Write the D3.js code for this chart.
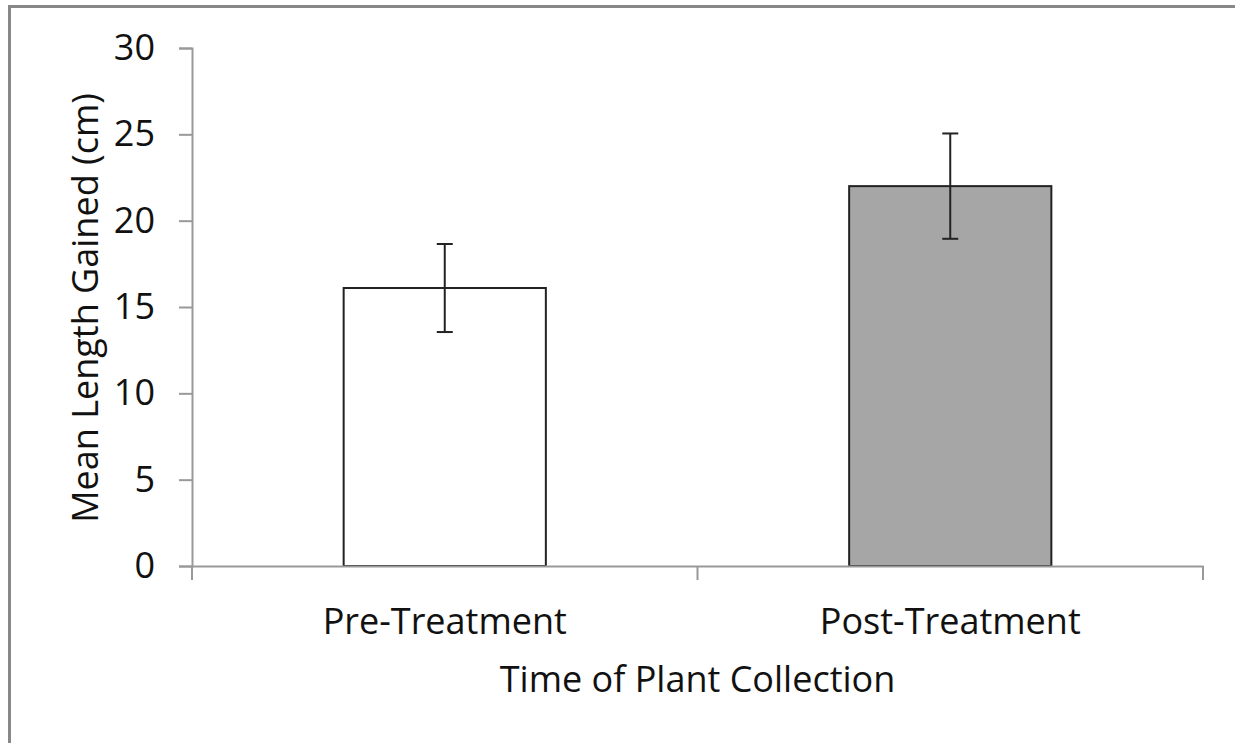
<!DOCTYPE html>
<html>
<head>
<meta charset="utf-8">
<script src="https://cdn.jsdelivr.net/npm/d3@7"></script>
<style>
  body { margin: 0; background: #fff; }
  svg text { font-family: "Open Sans", Lato, sans-serif; fill: #111; }
</style>
</head>
<body>
<div id="chart"></div>
<script>
var categories = ["Pre-Treatment", "Post-Treatment"];
var means = [16.1, 22.0];
var errors = [2.55, 3.05];
var barColors = ["#ffffff", "#a6a6a6"];
var yTicks = [0, 5, 10, 15, 20, 25, 30];

var W = 1235, H = 743;
var margin = {top: 48, right: 32, bottom: 177, left: 192},
    width = W - margin.left - margin.right,
    height = H - margin.top - margin.bottom;

var fontSize = "36px";

var svg = d3.select("#chart").append("svg")
    .attr("width", W)
    .attr("height", H);

// outer frame (only left and top edges show)
svg.append("rect")
    .attr("x", 9.5).attr("y", 6.5)
    .attr("width", W + 20).attr("height", H + 20)
    .attr("fill", "none")
    .attr("stroke", "#888")
    .attr("stroke-width", 3);

var g = svg.append("g")
    .attr("transform", "translate(" + margin.left + "," + margin.top + ")");

var x = d3.scaleBand()
    .domain(categories)
    .range([0, width])
    .paddingInner(0.6)
    .paddingOuter(0.3);

var y = d3.scaleLinear()
    .domain([0, 30])
    .range([height, 0]);

// bars
g.selectAll(".bar")
    .data(categories)
    .enter().append("rect")
    .attr("x", function (d) { return x(d); })
    .attr("y", function (d, i) { return y(means[i]); })
    .attr("width", x.bandwidth())
    .attr("height", function (d, i) { return height - y(means[i]); })
    .attr("fill", function (d, i) { return barColors[i]; })
    .attr("stroke", "#222")
    .attr("stroke-width", 2);

// error bars
var eb = g.selectAll(".err")
    .data(categories)
    .enter().append("g")
    .attr("transform", function (d) { return "translate(" + (x(d) + x.bandwidth() / 2) + ",0)"; })
    .attr("stroke", "#222")
    .attr("stroke-width", 2);
eb.append("line")
    .attr("y1", function (d, i) { return y(means[i] + errors[i]); })
    .attr("y2", function (d, i) { return y(means[i] - errors[i]); });
eb.append("line")
    .attr("x1", -8).attr("x2", 8)
    .attr("y1", function (d, i) { return y(means[i] + errors[i]); })
    .attr("y2", function (d, i) { return y(means[i] + errors[i]); });
eb.append("line")
    .attr("x1", -8).attr("x2", 8)
    .attr("y1", function (d, i) { return y(means[i] - errors[i]); })
    .attr("y2", function (d, i) { return y(means[i] - errors[i]); });

// y axis
var yAxis = g.append("g")
    .call(d3.axisLeft(y).tickValues(yTicks).tickSize(13).tickPadding(24));
yAxis.selectAll("text").style("font-size", fontSize);

// x axis, ticks sit at the category boundaries
var xAxis = g.append("g")
    .attr("transform", "translate(0," + height + ")")
    .call(d3.axisBottom(x).tickSize(0).tickPadding(42));
xAxis.selectAll("text").style("font-size", fontSize);
var bounds = [0, width / 2, width];
xAxis.selectAll(".sep")
    .data(bounds)
    .enter().append("line")
    .attr("class", "sep")
    .attr("x1", function (d) { return d; })
    .attr("x2", function (d) { return d; })
    .attr("y1", 0).attr("y2", 14);

g.selectAll(".domain, .tick line, .sep")
    .attr("stroke", "#999")
    .attr("stroke-width", 2);

// axis titles
g.append("text")
    .attr("x", width / 2)
    .attr("y", height + 126)
    .attr("text-anchor", "middle")
    .style("font-size", fontSize)
    .text("Time of Plant Collection");

g.append("text")
    .attr("transform", "rotate(-90)")
    .attr("x", -260)
    .attr("y", -94)
    .attr("text-anchor", "middle")
    .style("font-size", fontSize)
    .text("Mean Length Gained (cm)");
</script>
</body>
</html>
